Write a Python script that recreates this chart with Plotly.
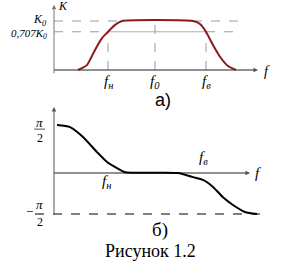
import plotly.graph_objects as go

# ---- data (frequency in arbitrary units, K in units of K0, phase in units of pi/2)
amp_f = [1.2, 1.65, 2.05, 2.4, 2.7, 3.05, 3.4, 6.95, 7.3, 7.6, 7.95, 8.3, 8.7, 9.1]
amp_k = [0.0, 0.10, 0.41, 0.65, 0.78, 0.92, 1.0, 1.0, 0.94, 0.78, 0.51, 0.27, 0.08, 0.0]
ph_f = [0.15, 0.8, 1.45, 2.15, 2.65, 3.15, 3.55, 6.2, 6.95, 7.45, 7.95, 8.45, 8.95, 9.55, 10.15]
ph_v = [1.17, 1.12, 0.88, 0.51, 0.27, 0.12, 0.02, 0.0, -0.10, -0.17, -0.34, -0.59, -0.78, -0.95, -1.0]
f_marks = {"low": 2.7, "mid": 5.05, "high": 7.6}
k_levels = [1.0, 0.78]  # K0 and 0,707K0 as drawn
f_labels = ["<i>f</i><sub><i>н</i></sub>", "<i>f</i><sub><i>0</i></sub>", "<i>f</i><sub><i>в</i></sub>"]

SERIF = "Liberation Serif"
red = "#8b1a1a"
grey = "#9a9a9a"

fig = go.Figure()
fig.add_trace(go.Scatter(x=amp_f, y=amp_k, mode="lines", line=dict(color=red, width=2, shape="spline", smoothing=0.5),
                         xaxis="x", yaxis="y", hoverinfo="skip"))
fig.add_trace(go.Scatter(x=ph_f, y=ph_v, mode="lines", line=dict(color="black", width=2, shape="spline", smoothing=0.6),
                         xaxis="x2", yaxis="y2", hoverinfo="skip"))

shapes = []
def seg(x0, y0, x1, y1, ax, color, dash="solid", width=1):
    shapes.append(dict(type="line", xref="x" if ax == 1 else "x2", yref="y" if ax == 1 else "y2",
                       x0=x0, y0=y0, x1=x1, y1=y1, line=dict(color=color, width=width, dash=dash), layer="below"))

seg(0, k_levels[0], 3.4, k_levels[0], 1, grey, "dash")
seg(6.95, k_levels[0], 9.3, k_levels[0], 1, grey, "dash")
seg(0, k_levels[1], f_marks["low"], k_levels[1], 1, grey, "dash")
seg(f_marks["low"], k_levels[1], f_marks["high"], k_levels[1], 1, "#b0b0b0")
seg(f_marks["high"], k_levels[1], 9.3, k_levels[1], 1, grey, "dash")
seg(f_marks["low"], 0, f_marks["low"], k_levels[1], 1, grey, "dash")
seg(f_marks["mid"], 0, f_marks["mid"], k_levels[0], 1, grey, "dash")
seg(f_marks["high"], 0, f_marks["high"], k_levels[1], 1, grey, "dash")
seg(-0.95, -1.0, 10.3, -1.0, 2, "black", "dash", 1.2)
seg(-1.0, 1.07, -0.45, 1.07, 2, "#555555")

ann = []
def arrow(xt, yt, xs, ys, ax, color):
    xr = "x" if ax == 1 else "x2"
    yr = "y" if ax == 1 else "y2"
    ann.append(dict(x=xt, y=yt, ax=xs, ay=ys, xref=xr, yref=yr, axref=xr, ayref=yr, text="",
                    showarrow=True, arrowhead=2, arrowsize=0.9, arrowwidth=1, arrowcolor=color))
def txt(x, y, s, ax, size=12, family=SERIF, xanchor="center", color="black"):
    ann.append(dict(x=x, y=y, xref="x" if ax == 1 else "x2", yref="y" if ax == 1 else "y2", text=s,
                    showarrow=False, font=dict(family=family, size=size, color=color), xanchor=xanchor, yanchor="middle"))

arrow(0, 1.33, 0, -0.1, 1, "#777777")
seg(0, 0, 10.0, 0, 1, "#222222")
arrow(10.2, 0, 9.9, 0, 1, "#555555")
arrow(0, 1.61, 0, -1.05, 2, "#555555")
seg(0, 0, 9.6, 0, 2, "#222222")
arrow(9.8, 0, 9.5, 0, 2, "#555555")

txt(0.45, 1.3, "<i>K</i>", 1, 12)
txt(-0.25, k_levels[0] + 0.02, "<i>K</i><sub><i>0</i></sub>", 1, 12, xanchor="right")
txt(-0.25, k_levels[1] - 0.04, "<i>0,707K</i><sub><i>0</i></sub>", 1, 11, xanchor="right")
txt(10.65, -0.04, "<i>f</i>", 1, 14)
for s, fx in zip(f_labels, [f_marks["low"], f_marks["mid"], f_marks["high"]]):
    txt(fx, -0.245, s, 1, 15)
txt(5.45, -0.61, "а)", 1, 18, family="Liberation Sans")

txt(-0.75, 1.73, "<i>φ</i><sub><i>к</i></sub>", 2, 13)
txt(-0.72, 1.24, "<i>π</i>", 2, 13)
txt(-0.72, 0.85, "2", 2, 12)
txt(-1.25, -0.93, "−", 2, 13)
txt(-0.72, -0.76, "<i>π</i>", 2, 13)
txt(-0.72, -1.2, "2", 2, 12)
txt(2.6, -0.22, "<i>f</i><sub><i>н</i></sub>", 2, 15)
txt(7.45, 0.37, "<i>f</i><sub><i>в</i></sub>", 2, 15)
txt(10.2, 0.0, "<i>f</i>", 2, 15)
txt(5.3, -1.39, "б)", 2, 19)
txt(4.8, -1.9, "Рисунок 1.2", 2, 18)

split = 152 / 262
ax_common = dict(visible=False, fixedrange=True)
fig.update_layout(
    width=288, height=262, margin=dict(l=0, r=0, t=0, b=0),
    paper_bgcolor="white", plot_bgcolor="white", showlegend=False,
    xaxis=dict(domain=[0, 1], range=[-2.7, 11.7], anchor="y", **ax_common),
    yaxis=dict(domain=[split, 1], range=[-40 / 49, 70 / 49], anchor="x", **ax_common),
    xaxis2=dict(domain=[0, 1], range=[-2.7, 11.7], anchor="y2", **ax_common),
    yaxis2=dict(domain=[0, split], range=[-89 / 41, 63 / 41], anchor="x2", **ax_common),
    shapes=shapes, annotations=ann,
)
fig.write_html("out.html", config={"displayModeBar": False})
